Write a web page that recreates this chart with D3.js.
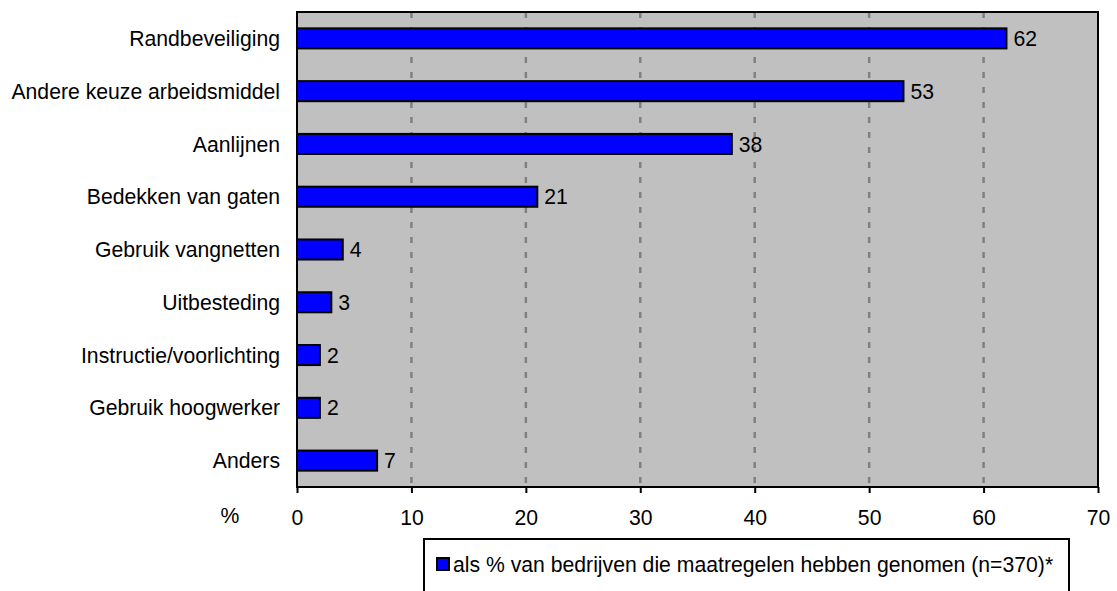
<!DOCTYPE html>
<html><head><meta charset="utf-8">
<script src="https://cdn.jsdelivr.net/npm/d3@7"></script>
<style>
html,body{margin:0;padding:0;background:#fff;}
svg{display:block;font-family:"Liberation Sans",Arial,sans-serif;}
</style></head>
<body>
<svg id="chart" width="1117" height="591"></svg>
<script>
const categories = ["Randbeveiliging","Andere keuze arbeidsmiddel","Aanlijnen","Bedekken van gaten","Gebruik vangnetten","Uitbesteding","Instructie/voorlichting","Gebruik hoogwerker","Anders"];
const values = [62,53,38,21,4,3,2,2,7];
const xTicks = [0,10,20,30,40,50,60,70];
const seriesName = "als % van bedrijven die maatregelen hebben genomen (n=370)*";
const axisUnit = "%";

const svg = d3.select("#chart");
const m = {left:297, right:1098, top:12, bottom:487};
const fs = 21.2;

const x = d3.scaleLinear().domain([0,70]).range([m.left, m.right]);
const y = d3.scaleBand().domain(categories).range([m.top, m.bottom]).padding(0);
const barH = y.bandwidth()*0.38;

svg.append("rect").attr("x",m.left).attr("y",m.top).attr("width",m.right-m.left).attr("height",m.bottom-m.top).attr("fill","#c0c0c0");

svg.append("g").selectAll("line").data(xTicks.filter(t=>t>0&&t<70)).join("line")
  .attr("x1",d=>x(d)).attr("x2",d=>x(d)).attr("y1",m.top).attr("y2",m.bottom)
  .attr("stroke","#808080").attr("stroke-width",2.5).attr("stroke-dasharray","6,9");

svg.append("g").selectAll("rect").data(values).join("rect")
  .attr("x",x(0)).attr("y",(d,i)=>y(categories[i])+(y.bandwidth()-barH)/2)
  .attr("width",d=>x(d)-x(0)).attr("height",barH)
  .attr("fill","#0000ff").attr("stroke","#000").attr("stroke-width",2);

svg.append("g").selectAll("text").data(values).join("text")
  .attr("x",d=>x(d)+7).attr("y",(d,i)=>y(categories[i])+y.bandwidth()/2)
  .attr("dy","0.36em").attr("font-size",fs).attr("fill","#000").text(d=>d);

svg.append("rect").attr("x",m.left).attr("y",m.top).attr("width",m.right-m.left).attr("height",m.bottom-m.top)
  .attr("fill","none").attr("stroke","#000").attr("stroke-width",2);

svg.append("g").selectAll("text").data(categories).join("text")
  .attr("x",m.left-17).attr("y",d=>y(d)+y.bandwidth()/2).attr("dy","0.36em")
  .attr("text-anchor","end").attr("font-size",fs).attr("fill","#000").text(d=>d);

const xAxis = d3.axisBottom(x).tickValues(xTicks).tickSize(6).tickPadding(17).tickFormat(d3.format("d"));
const gx = svg.append("g").attr("transform",`translate(0,${m.bottom})`).call(xAxis);
gx.select(".domain").remove();
gx.selectAll(".tick line").attr("stroke","#000").attr("stroke-width",2);
gx.selectAll(".tick text").attr("font-size",fs).attr("font-family","Liberation Sans, Arial, sans-serif").attr("fill","#000");

svg.append("text").attr("x",230).attr("y",523).attr("text-anchor","middle").attr("font-size",fs).text(axisUnit);

svg.append("rect").attr("x",424).attr("y",539).attr("width",645).attr("height",80)
  .attr("fill","#fff").attr("stroke","#000").attr("stroke-width",2);
svg.append("rect").attr("x",437).attr("y",558).attr("width",12).attr("height",12)
  .attr("fill","#0000ff").attr("stroke","#000").attr("stroke-width",2);
svg.append("text").attr("x",453).attr("y",572).attr("font-size",fs).text(seriesName);
</script>
</body></html>
